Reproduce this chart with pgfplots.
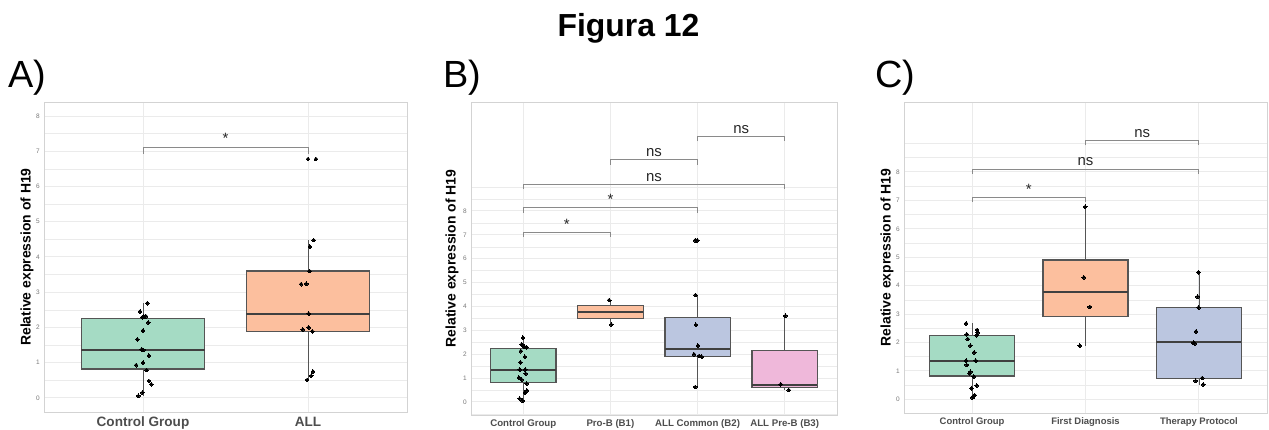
\documentclass[border=0pt]{standalone}
\usepackage{pgfplots}
\pgfplotsset{compat=1.18}
\usepgfplotslibrary{statistics}
\usepackage{fontspec}
\setmainfont{Liberation Sans}
\definecolor{cgreen}{HTML}{A5DBC4}
\definecolor{corange}{HTML}{FCBF9E}
\definecolor{cblue}{HTML}{BBC6E0}
\definecolor{cpink}{HTML}{EFB8DA}
\definecolor{gridc}{HTML}{EBEBEB}
\definecolor{borderc}{HTML}{D3D3D3}
\definecolor{boxline}{HTML}{555555}
\definecolor{txtgray}{HTML}{4D4D4D}
\definecolor{tickgray}{HTML}{777777}
\definecolor{brack}{HTML}{8A8A8A}
\pgfplotsset{
  boxplot/every median/.style={draw=black!75, line width=2bp},
  boxplot/every whisker/.style={draw=boxline, line width=0.8bp},
  boxplot/every box/.style={draw=boxline, line width=1.2bp},
  panel/.style={
    scale only axis, anchor=south west,
    axis line style={draw=borderc, line width=0.8bp},
    major tick length=0pt, minor tick length=0pt,
    ymajorgrids, yminorgrids, xmajorgrids,
    major grid style={draw=gridc, line width=1bp},
    minor grid style={draw=gridc, line width=0.6bp},
    ytick={0,1,2,3,4,5,6,7,8},
    minor ytick={-0.5,0.5,1.5,2.5,3.5,4.5,5.5,6.5,7.5,8.5,9},
    /pgf/number format/assume math mode=true,
    yticklabel style={font=\fontsize{6.5}{6.5}\selectfont, text=tickgray, inner sep=0pt, xshift=-4bp},
    xticklabel style={text=txtgray, inner sep=0pt, yshift=-4.5bp},
    xtick={1,2,3,4},
    boxplot/draw direction=y,
  },
  bx/.style={draw=boxline, line width=1.2bp},
  pts/.style={only marks, mark=*, mark size=1.9bp, black, mark options={draw=black, fill=black, line width=0pt}},
  br/.style={draw=brack, line width=1bp, mark=none},
}
\newcommand{\sig}[3]{\node[anchor=base, inner sep=0pt, font=\fontsize{15}{15}\selectfont, text=black!85, yshift=3.2bp] at (axis cs:#1,#2) {#3};}
\begin{document}
\begin{tikzpicture}
\path[use as bounding box] (0,0) rectangle (1269bp,430bp);
\node[anchor=base, font=\bfseries\fontsize{32}{32}\selectfont] at (628.5bp,393bp) {Figura 12};
\node[anchor=base west, inner sep=0pt, font=\fontsize{38}{38}\selectfont] at (8bp,342bp) {A)};
\node[anchor=base west, inner sep=0pt, font=\fontsize{38}{38}\selectfont] at (443bp,342bp) {B)};
\node[anchor=base west, inner sep=0pt, font=\fontsize{38}{38}\selectfont] at (875bp,342bp) {C)};
\node[rotate=90, font=\bfseries\fontsize{14}{14}\selectfont] at (27bp,173bp) {Relative expression of H19};
\node[rotate=90, font=\bfseries\fontsize{14}{14}\selectfont] at (452bp,171.5bp) {Relative expression of H19};
\node[rotate=90, font=\bfseries\fontsize{14}{14}\selectfont] at (887bp,172.5bp) {Relative expression of H19};

% ---------------- Panel A
\begin{axis}[panel, at={(44bp,18bp)}, width=363bp, height=310bp,
  xmin=0.4, xmax=2.6, ymin=-0.4, ymax=8.4,
  xtick={1,2}, xticklabels={Control Group, ALL},
  xticklabel style={font=\bfseries\fontsize{13.6}{14}\selectfont}]
\addplot[bx, fill=cgreen, boxplot prepared={lower whisker=0.06, lower quartile=0.82, median=1.36, upper quartile=2.25, upper whisker=2.69, draw position=1, box extend=0.75, whisker extend=0}] coordinates {};
\addplot[bx, fill=corange, boxplot prepared={lower whisker=0.51, lower quartile=1.88, median=2.38, upper quartile=3.60, upper whisker=4.48, draw position=2, box extend=0.75, whisker extend=0}] coordinates {};
\addplot[pts] coordinates {(1.026,2.69)(0.982,2.45)(0.996,2.29)(1.006,2.31)(1.018,2.32)(1.032,2.14)(1.0,1.91)(0.966,1.66)(0.992,1.38)(1.002,1.36)(1.036,1.2)(1.0,1.0)(0.958,0.93)(1.022,0.79)(1.036,0.48)(1.05,0.39)(0.996,0.15)(0.972,0.06)};
\addplot[pts] coordinates {(2.0,6.78)(2.048,6.78)(2.034,4.48)(2.012,4.29)(2.01,3.6)(1.958,3.23)(1.99,3.24)(2.004,2.39)(1.968,1.94)(2.004,2.0)(2.026,1.89)(2.03,0.75)(2.02,0.63)(1.994,0.51)};
\addplot[br] coordinates {(1,6.93)(1,7.12)(2,7.12)(2,6.93)};
\sig{1.5}{7.12}{*}
\end{axis}

% ---------------- Panel B
\begin{axis}[panel, at={(471bp,15bp)}, width=366bp, height=313bp,
  xmin=0.4, xmax=4.6, ymin=-0.545, ymax=12.565,
  xtick={1,2,3,4}, xticklabels={Control Group, Pro-B (B1), ALL Common (B2), ALL Pre-B (B3)},
  xticklabel style={font=\bfseries\fontsize{9.7}{10}\selectfont}]
\addplot[bx, fill=cgreen, boxplot prepared={lower whisker=0.05, lower quartile=0.82, median=1.36, upper quartile=2.25, upper whisker=2.69, draw position=1, box extend=0.75, whisker extend=0}] coordinates {};
\addplot[bx, fill=corange, boxplot prepared={lower whisker=3.24, lower quartile=3.50, median=3.77, upper quartile=4.03, upper whisker=4.27, draw position=2, box extend=0.75, whisker extend=0}] coordinates {};
\addplot[bx, fill=cblue, boxplot prepared={lower whisker=0.63, lower quartile=1.92, median=2.20, upper quartile=3.53, upper whisker=4.48, draw position=3, box extend=0.75, whisker extend=0}] coordinates {};
\addplot[bx, fill=cpink, boxplot prepared={lower whisker=0.50, lower quartile=0.62, median=0.73, upper quartile=2.17, upper whisker=3.61, draw position=4, box extend=0.75, whisker extend=0}] coordinates {};
\addplot[pts] coordinates {(0.996,2.69)(0.981,2.41)(0.992,2.36)(1.015,2.31)(1.038,2.29)(0.973,2.13)(1.019,1.89)(0.966,1.66)(0.958,1.36)(1.023,1.36)(1.027,1.19)(0.95,1.02)(0.981,0.94)(1.038,0.77)(1.042,0.48)(1.019,0.39)(0.958,0.14)(0.992,0.05)};
\addplot[pts] coordinates {(1.985,4.27)(2.011,3.24)};
\addplot[pts] coordinates {(2.973,6.77)(2.996,6.77)(2.977,4.48)(2.981,3.23)(3.004,2.36)(2.958,2.0)(3.019,1.93)(3.05,1.89)(2.973,0.63)};
\addplot[pts] coordinates {(4.008,3.61)(3.954,0.74)(4.046,0.5)};
\addplot[br] coordinates {(1,6.92)(1,7.1)(2,7.1)(2,6.92)};
\addplot[br] coordinates {(1,7.93)(1,8.13)(3,8.13)(3,7.93)};
\addplot[br] coordinates {(1,8.92)(1,9.12)(4,9.12)(4,8.92)};
\addplot[br] coordinates {(2,9.94)(2,10.14)(3,10.14)(3,9.94)};
\addplot[br] coordinates {(3,10.93)(3,11.13)(4,11.13)(4,10.93)};
\sig{1.5}{7.1}{*}
\sig{2}{8.13}{*}
\sig{2.5}{9.12}{ns}
\sig{2.5}{10.14}{ns}
\sig{3.5}{11.13}{ns}
\end{axis}

% ---------------- Panel C
\begin{axis}[panel, at={(904bp,17bp)}, width=363bp, height=311bp,
  xmin=0.4, xmax=3.6, ymin=-0.48, ymax=10.46,
  xtick={1,2,3}, xticklabels={Control Group, First Diagnosis, Therapy Protocol},
  xticklabel style={font=\bfseries\fontsize{9.5}{10}\selectfont}]
\addplot[bx, fill=cgreen, boxplot prepared={lower whisker=0.07, lower quartile=0.82, median=1.36, upper quartile=2.25, upper whisker=2.67, draw position=1, box extend=0.75, whisker extend=0}] coordinates {};
\addplot[bx, fill=corange, boxplot prepared={lower whisker=1.89, lower quartile=2.91, median=3.76, upper quartile=4.90, upper whisker=6.77, draw position=2, box extend=0.75, whisker extend=0}] coordinates {};
\addplot[bx, fill=cblue, boxplot prepared={lower whisker=0.52, lower quartile=0.74, median=2.00, upper quartile=3.22, upper whisker=4.47, draw position=3, box extend=0.75, whisker extend=0}] coordinates {};
\addplot[pts] coordinates {(0.947,2.67)(0.953,2.29)(1.044,2.44)(1.05,2.35)(1.041,2.26)(0.962,2.12)(0.985,1.89)(1.018,1.65)(0.947,1.36)(1.032,1.36)(0.953,1.21)(0.985,0.97)(0.977,0.91)(1.015,0.8)(1.041,0.49)(0.994,0.39)(1.023,0.15)(1.009,0.08)(1.0,0.07)};
\addplot[pts] coordinates {(1.997,6.77)(1.985,4.29)(2.038,3.25)(1.95,1.89)};
\addplot[pts] coordinates {(2.997,4.47)(2.988,3.61)(2.997,3.23)(2.974,2.39)(2.953,1.99)(2.962,1.96)(3.029,0.75)(2.971,0.65)(3.038,0.52)};
\addplot[br] coordinates {(1,6.94)(1,7.11)(2,7.11)(2,6.94)};
\addplot[br] coordinates {(1,7.93)(1,8.1)(3,8.1)(3,7.93)};
\addplot[br] coordinates {(2,8.93)(2,9.1)(3,9.1)(3,8.93)};
\sig{1.5}{7.11}{*}
\sig{2}{8.1}{ns}
\sig{2.5}{9.1}{ns}
\end{axis}
\end{tikzpicture}
\end{document}
